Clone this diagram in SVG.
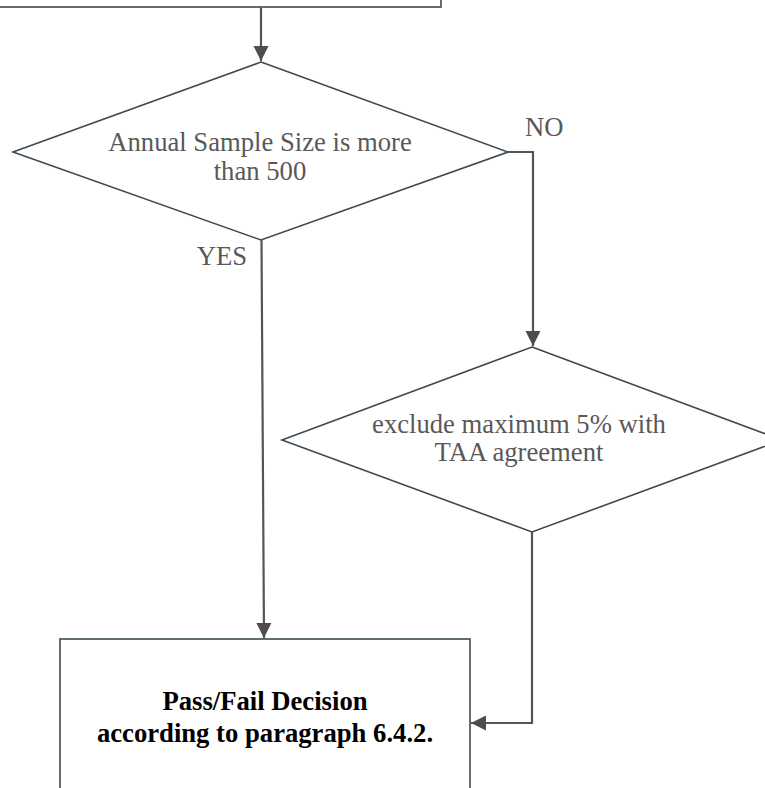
<svg xmlns="http://www.w3.org/2000/svg" width="765" height="788" viewBox="0 0 765 788">
<style>
.shape{fill:#ffffff;stroke:#3b4a54;stroke-width:1.6}
.conn{fill:none;stroke:#555555;stroke-width:2.2}
.t{font-family:"Liberation Serif","Times New Roman",serif;font-size:26.67px;fill:#595959;text-anchor:middle}
.b{font-family:"Liberation Serif","Times New Roman",serif;font-size:26.67px;font-weight:bold;fill:#000000;text-anchor:middle}
.lbl{font-family:"Liberation Serif","Times New Roman",serif;font-size:26.67px;fill:#595959}
</style>
<defs>
<marker id="ah" viewBox="0 0 10 10" refX="10" refY="5" markerWidth="7" markerHeight="7" orient="auto" markerUnits="strokeWidth">
<path d="M0,0 L10,5 L0,10 z" fill="#4d4d4d"/>
</marker>
</defs>
<rect width="765" height="788" fill="#ffffff"/>
<g id="start">
<rect class="shape" x="-10" y="-50" width="451" height="57"/>
</g>
<g id="decision1">
<polygon class="shape" points="261,62 508,152 261,240 13,152"/>
<text class="t" x="260" y="151">Annual Sample Size is more</text>
<text class="t" x="260" y="180">than 500</text>
</g>
<g id="decision2">
<polygon class="shape" points="532,347 782,440 532,532 282,440"/>
<text class="t" x="519" y="433">exclude maximum 5% with</text>
<text class="t" x="519" y="461">TAA agreement</text>
</g>
<g id="result">
<rect class="shape" x="60" y="639" width="410" height="220"/>
<text class="b" x="265" y="710">Pass/Fail Decision</text>
<text class="b" x="265" y="742">according to paragraph 6.4.2.</text>
</g>
<g id="connectors">
<path class="conn" d="M261,7 L261,61" marker-end="url(#ah)"/>
<path class="conn" d="M261.5,240 L264,638" marker-end="url(#ah)"/>
<path class="conn" d="M508,152 L533,152 L533,346" marker-end="url(#ah)"/>
<path class="conn" d="M532,532 L532,723 L471,723" marker-end="url(#ah)"/>
<text class="lbl" x="247" y="265" text-anchor="end">YES</text>
<text class="lbl" x="525" y="136">NO</text>
</g>
</svg>
